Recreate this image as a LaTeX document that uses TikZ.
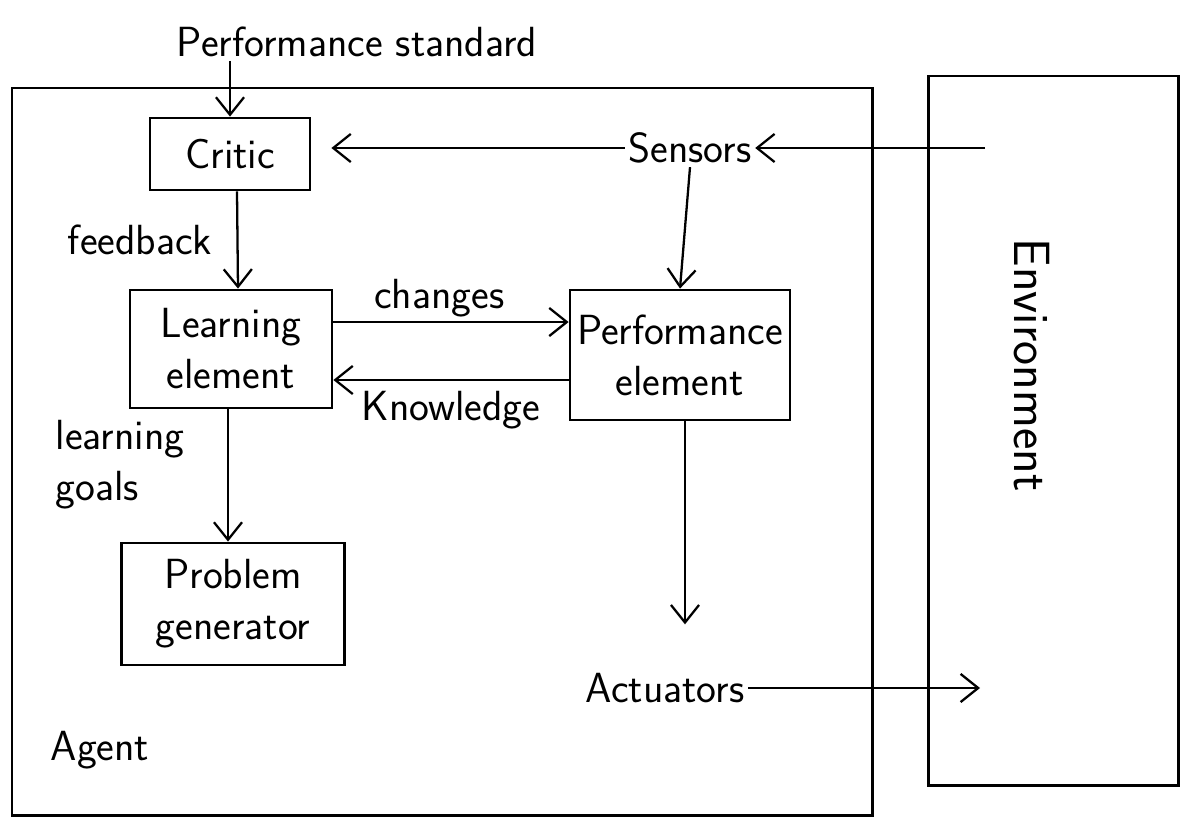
\documentclass[tikz,border=0pt]{standalone}
\usetikzlibrary{arrows.meta,positioning}
\begin{document}
\begin{tikzpicture}[x=0.02cm,y=-0.02cm,
  every node/.style={font=\sffamily\fontsize{24}{29}\selectfont},
  blk/.style={draw,line width=1.6pt,align=center,inner sep=0pt},
  lbl/.style={align=center,inner sep=2pt},
  arr/.style={line width=1.3pt,-{Straight Barb[length=10pt,width=16pt,line width=1.3pt]}},
  frame/.style={line width=1.7pt}]
\useasboundingbox (0,0) rectangle (1199,828);
% outer frames
\draw[frame] (12,88) rectangle (872,815);
\draw[frame] (928,76) rectangle (1178,785);
% nodes
\node[lbl] (ps) at (357,42) {Performance standard};
\node[blk,minimum width=3.2cm,minimum height=1.44cm] (critic) at (230,154) {Critic};
\node[lbl] (sensors) at (690,148) {Sensors};
\node[blk,minimum width=4.04cm,minimum height=2.36cm] (le) at (231,349) {Learning\\element};
\node[blk,minimum width=4.4cm,minimum height=2.6cm] (pe) at (680,355) {Performance\\element};
\node[blk,minimum width=4.46cm,minimum height=2.44cm] (pg) at (233,604) {Problem\\generator};
\node[lbl] (act) at (665,688) {Actuators};
\node[lbl] (agent) at (100,750) {Agent};
\node[lbl,rotate=-90,font=\sffamily\fontsize{29}{34}\selectfont] (env) at (1032,365) {Environment};
\node[lbl] (fb) at (140,240) {feedback};
\node[lbl,align=left] (lg) at (120,465) {learning\\goals};
\coordinate (envin) at (985,148);
\coordinate (envout) at (980,682);
% connectors
\draw[arr] (critic.north |- ps.south) -- (critic.north);
\draw[arr,shorten >=0.4cm] (sensors.west) -- (sensors.west -| critic.east);
\draw[arr] (envin) -- (sensors.east);
\draw[arr] (sensors.south) -- (pe.north);
\draw[arr] ([xshift=0.14cm]critic.south) -- ([xshift=0.14cm]le.north);
\draw[arr] ([yshift=0.54cm]le.east) -- node[lbl,above,pos=0.45] (ch) {changes} ([yshift=0.54cm]le.east -| pe.west);
\draw[arr] ([yshift=-0.62cm]le.east -| pe.west) -- node[lbl,below,pos=0.5,yshift=-4pt] (kn) {Knowledge} ([yshift=-0.62cm]le.east);
\draw[arr] ([xshift=-0.06cm]le.south) -- ([xshift=-0.06cm]le.south |- pg.north);
\draw[arr,shorten >=0.9cm] ([xshift=0.1cm]pe.south) -- ([xshift=0.1cm]pe.south |- act.north);
\draw[arr] (act.east) -- (act.east -| envout);
\end{tikzpicture}
\end{document}
